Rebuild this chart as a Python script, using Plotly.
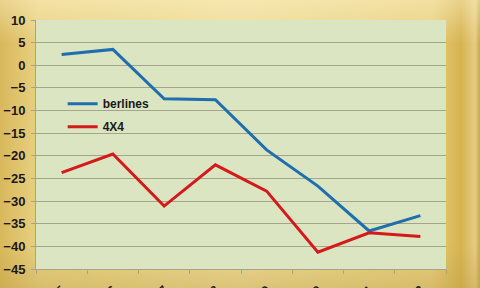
import plotly.graph_objects as go
import urllib.parse

categories = ["2005", "2006", "2007", "2008", "2009", "2010", "2011", "2012"]
berlines = [2.4, 3.5, -7.4, -7.6, -18.7, -26.7, -36.6, -33.2]
quatre = [-23.7, -19.6, -31.1, -22.0, -27.8, -41.3, -37.0, -37.8]
y_ticks = [10, 5, 0, -5, -10, -15, -20, -25, -30, -35, -40, -45]

W, H = 480, 288
ML, MR, MT, MB = 36, 34, 20, 19
PW, PH = W - ML - MR, H - MT - MB

svg = (
    f'<svg xmlns="http://www.w3.org/2000/svg" width="{W}" height="{H}" preserveAspectRatio="none">'
    '<defs>'
    '<linearGradient id="h" x1="0" y1="0" x2="1" y2="0">'
    '<stop offset="0" stop-color="#d8b85c"/>'
    '<stop offset="0.08" stop-color="#e9d183"/>'
    '<stop offset="0.5" stop-color="#efdb97"/>'
    '<stop offset="0.9" stop-color="#e8cf80"/>'
    '<stop offset="0.96" stop-color="#d6b350"/>'
    '<stop offset="0.99" stop-color="#e6cc84"/>'
    '<stop offset="1" stop-color="#c8a848"/>'
    '</linearGradient>'
    '<linearGradient id="v" x1="0" y1="0" x2="0" y2="1">'
    '<stop offset="0" stop-color="#fff6cc" stop-opacity="0.45"/>'
    '<stop offset="0.15" stop-color="#fff6cc" stop-opacity="0"/>'
    '<stop offset="0.85" stop-color="#b89a40" stop-opacity="0"/>'
    '<stop offset="1" stop-color="#b89a40" stop-opacity="0.35"/>'
    '</linearGradient>'
    '</defs>'
    f'<rect width="{W}" height="{H}" fill="url(#h)"/>'
    f'<rect width="{W}" height="{H}" fill="url(#v)"/>'
    f'<rect x="{ML}" y="{MT}" width="{PW}" height="{PH}" fill="#dbe5c2"/>'
    '</svg>'
)
src = "data:image/svg+xml;charset=utf-8," + urllib.parse.quote(svg)

fig = go.Figure()
fig.add_trace(go.Scatter(x=categories, y=berlines, mode="lines", name="berlines",
                         legendgroup="a",
                         line=dict(color="#1f6eae", width=3)))
fig.add_trace(go.Scatter(x=categories, y=quatre, mode="lines", name="4X4",
                         legendgroup="b",
                         line=dict(color="#d41a1a", width=3)))

fig.update_layout(
    width=W, height=H,
    margin=dict(l=ML, r=MR, t=MT, b=MB),
    paper_bgcolor="#e9d183",
    plot_bgcolor="rgba(0,0,0,0)",
    images=[dict(source=src, xref="paper", yref="paper",
                 x=-ML / PW, y=1 + MT / PH, sizex=W / PW, sizey=H / PH,
                 sizing="stretch", layer="below",
                 xanchor="left", yanchor="top")],
    showlegend=True,
    legend=dict(x=0.065, y=0.722, xanchor="left", yanchor="top",
                bgcolor="rgba(0,0,0,0)", tracegroupgap=4,
                font=dict(family="Liberation Sans", size=12, color="#1a1a1a", weight="bold"),
                itemwidth=30),
    font=dict(family="Liberation Sans", color="#1a1a1a"),
)
fig.update_yaxes(range=[-45, 10], tickvals=y_ticks, showgrid=True, automargin=False,
                 gridcolor="#a3a68a", gridwidth=1, zeroline=False,
                 ticks="outside", ticklen=4, tickcolor="#a3a68a",
                 showline=True, linecolor="#a3a68a", ticklabelstandoff=3,
                 tickfont=dict(family="Liberation Sans", size=13, color="#1a1a1a", weight="bold"))
fig.update_xaxes(type="category", range=[-0.5, 7.5], showgrid=False, automargin=False,
                 tickson="boundaries", ticks="outside", ticklen=4,
                 tickcolor="#a3a68a", showline=True, linecolor="#a3a68a",
                 tickangle=-45, ticklabelstandoff=8,
                 tickfont=dict(family="Liberation Sans", size=12, color="#1a1a1a", weight="bold"))

fig.write_html("out.html")
